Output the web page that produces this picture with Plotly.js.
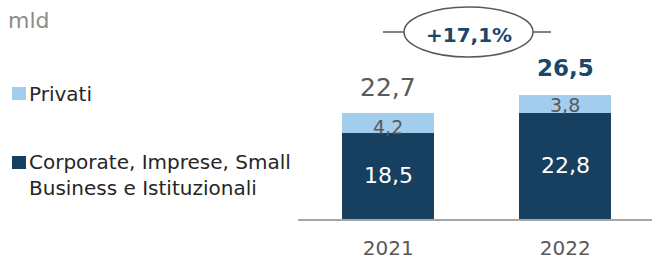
<!DOCTYPE html>
<html>
<head>
<meta charset="utf-8">
<script src="https://cdn.plot.ly/plotly-3.0.1.min.js"></script>
<style>
html,body{margin:0;padding:0;background:#fff;}
#chart{width:652px;height:260px;}
</style>
</head>
<body>
<div id="chart"></div>
<script>
// ---- data ----
var years = ["2021", "2022"];
var corporate = [18.5, 22.8];
var privati = [4.2, 3.8];
var totals = [22.7, 26.5];   // totals as printed in the source
var seriesNames = ["Corporate, Imprese, Small Business e Istituzionali", "Privati"];
var legendLines = [["Privati"], ["Corporate, Imprese, Small", "Business e Istituzionali"]];
var growthLabel = "+17,1%";
var unitLabel = "mld";

// ---- style ----
var DARK = "#173f60";
var LIGHT = "#a3cdec";
var GRAY = "#595959";
var NAVY = "#1b4769";
var FONT = "DejaVu Sans";

function fmt(v){ return v.toFixed(1).replace(".", ","); }

var traces = [
  {type:"bar", x:years, y:corporate, name:seriesNames[0], marker:{color:DARK}, width:0.52, hoverinfo:"none"},
  {type:"bar", x:years, y:privati, name:seriesNames[1], marker:{color:LIGHT}, width:0.52, hoverinfo:"none"}
];

var ann = [];
years.forEach(function(yr, i){
  ann.push({x:i, y:corporate[i]/2, xref:"x", yref:"y", text:fmt(corporate[i]), showarrow:false,
    font:{family:FONT, size:22, color:"#ffffff"}});
  ann.push({x:i, y:corporate[i] + privati[i]/2, xref:"x", yref:"y", text:fmt(privati[i]), showarrow:false,
    font:{family:FONT, size:19, color:GRAY}, yshift:(i===0?-4:-1)});
  var last = (i === years.length-1);
  ann.push({x:i, y:corporate[i] + privati[i], xref:"x", yref:"y", text: last ? "<b>"+fmt(totals[i])+"</b>" : fmt(totals[i]), showarrow:false,
    font:{family:FONT, size: last ? 23 : 25, color: last ? NAVY : GRAY}, yanchor:"middle", yshift: last ? 27 : 26});
});

// pixel helpers for paper coords (plot area: x 298..652, y 0..219)
function px(x){ return (x-298)/354; }
function py(y){ return (219-y)/219; }

ann.push({x:px(6), y:py(20), xref:"paper", yref:"paper", xanchor:"left", yanchor:"middle", text:unitLabel, showarrow:false,
  font:{family:FONT, size:22, color:"#8c8c8c"}});
// legend text
var LF = {family:FONT, size:20, color:"#262626"};
ann.push({x:px(27), y:py(94), xref:"paper", yref:"paper", xanchor:"left", yanchor:"middle", text:legendLines[0][0], showarrow:false, font:LF});
ann.push({x:px(27), y:py(162), xref:"paper", yref:"paper", xanchor:"left", yanchor:"middle", text:legendLines[1][0], showarrow:false, font:LF});
ann.push({x:px(27), y:py(188), xref:"paper", yref:"paper", xanchor:"left", yanchor:"middle", text:legendLines[1][1], showarrow:false, font:LF});
// growth label
ann.push({x:px(469), y:py(35), xref:"paper", yref:"paper", xanchor:"center", yanchor:"middle", text:"<b>"+growthLabel+"</b>", showarrow:false,
  font:{family:FONT, size:20, color:NAVY}});

var shapes = [
  {type:"rect", xref:"paper", yref:"paper", x0:px(12), x1:px(26), y0:py(87), y1:py(100), fillcolor:LIGHT, line:{width:0}},
  {type:"rect", xref:"paper", yref:"paper", x0:px(12), x1:px(26), y0:py(156), y1:py(169), fillcolor:DARK, line:{width:0}},
  {type:"circle", xref:"paper", yref:"paper", x0:px(404), x1:px(533), y0:py(7), y1:py(57), line:{color:GRAY, width:1.5}, fillcolor:"rgba(0,0,0,0)"},
  {type:"line", xref:"paper", yref:"paper", x0:px(383), x1:px(404), y0:py(32), y1:py(32), line:{color:GRAY, width:1.5}},
  {type:"line", xref:"paper", yref:"paper", x0:px(533), x1:px(551), y0:py(32), y1:py(32), line:{color:GRAY, width:1.5}}
];

var layout = {
  width:652, height:260,
  margin:{l:298, r:0, t:0, b:41, pad:0},
  barmode:"stack",
  showlegend:false,
  paper_bgcolor:"#ffffff", plot_bgcolor:"#ffffff",
  xaxis:{type:"category", range:[-0.51, 1.49], showline:true, linecolor:"#a6a6a6", linewidth:1.5,
    ticks:"", showgrid:false, zeroline:false, ticklabelstandoff:10,
    tickfont:{family:FONT, size:20, color:GRAY}, fixedrange:true},
  yaxis:{range:[0, 47.1], visible:false, showgrid:false, zeroline:false, fixedrange:true},
  annotations:ann,
  shapes:shapes
};

Plotly.newPlot("chart", traces, layout, {displayModeBar:false, staticPlot:true});
</script>
</body>
</html>
